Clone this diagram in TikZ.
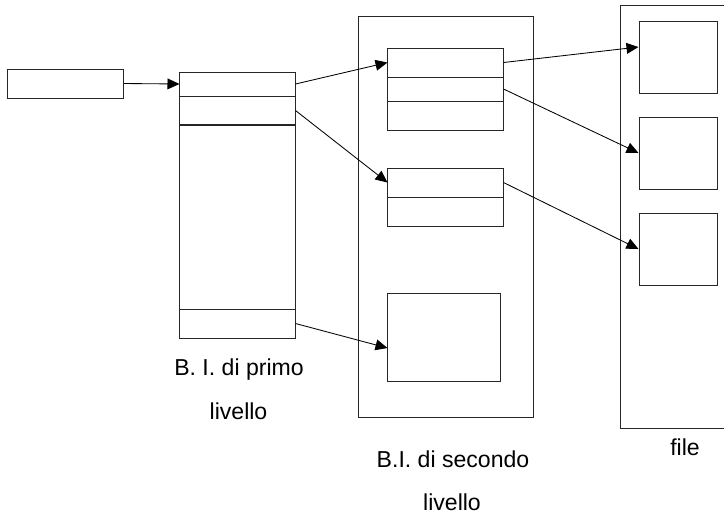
\documentclass[tikz,border=0pt]{standalone}
\usepackage{fontspec}
\setmainfont{Liberation Sans}
\usetikzlibrary{arrows.meta}

\begin{document}
\begin{tikzpicture}[
  x=0.025cm,y=-0.025cm,
  >={Triangle[length=0.3cm,width=0.27cm]},
  cell/.style={draw=black!85,line width=0.7pt,inner sep=0pt,
    minimum width=2.875cm,minimum height=#1},
  cell/.default=0.725cm,
  blk/.style={draw=black!85,line width=0.7pt,inner sep=0pt,
    minimum width=1.95cm,minimum height=1.8cm},
  frame/.style={draw=black!85,line width=0.7pt},
  ptr/.style={->,line width=0.6pt},
  lab/.style={anchor=base,font=\fontsize{16.4}{19}\selectfont}]

  \useasboundingbox (0,0) rectangle (724,516);
  \clip (0,0) rectangle (724,516);

  % pointer to the first level
  \node[cell] (inp) at (65.5,83.5) {};

  % first level index
  \node[cell=0.6cm] (i1) at (237.5,84) {};
  \node[cell] (i2) at (237.5,110.5) {};
  \node[cell=4.6cm] (i3) at (237.5,217) {};
  \node[cell] (i4) at (237.5,323.5) {};
  \node[lab] (lab1a) at (239,375) {B. I. di primo};
  \node[lab] (lab1b) at (238.5,419) {livello};

  % second level index
  \draw[frame] (358,16) rectangle (533,417);
  \node[cell] (a1) at (445.5,62.5) {};
  \node[cell=0.6cm] (a2) at (445.5,89) {};
  \node[cell] (a3) at (445.5,115.5) {};
  \node[cell] (b1) at (445.5,182.5) {};
  \node[cell] (b2) at (445.5,211.5) {};
  \node[cell=2.2cm,minimum width=2.8cm] (c) at (444,337) {};
  \node[lab] (lab2a) at (453,467) {B.I. di secondo};
  \node[lab] (lab2b) at (452,510) {livello};

  % data file
  \draw[frame] (620,5) rectangle (760,428);
  \node[blk] (f1) at (678,57) {};
  \node[blk] (f2) at (678,153) {};
  \node[blk] (f3) at (678,249) {};
  \node[lab] (labf) at (685,455) {file};

  % pointers
  \draw[ptr] (inp.east) -- (i1.west);
  \draw[ptr] (i1.east) -- (a1.west);
  \draw[ptr] (i2.east) -- (b1.west);
  \draw[ptr] (i4.east) -- ([yshift=-0.275cm]c.west);
  \draw[ptr] (a1.east) -- ([yshift=0.25cm]f1.west);
  \draw[ptr] (a2.east) -- (f2.west);
  \draw[ptr] (b1.east) -- (f3.west);
\end{tikzpicture}
\end{document}
